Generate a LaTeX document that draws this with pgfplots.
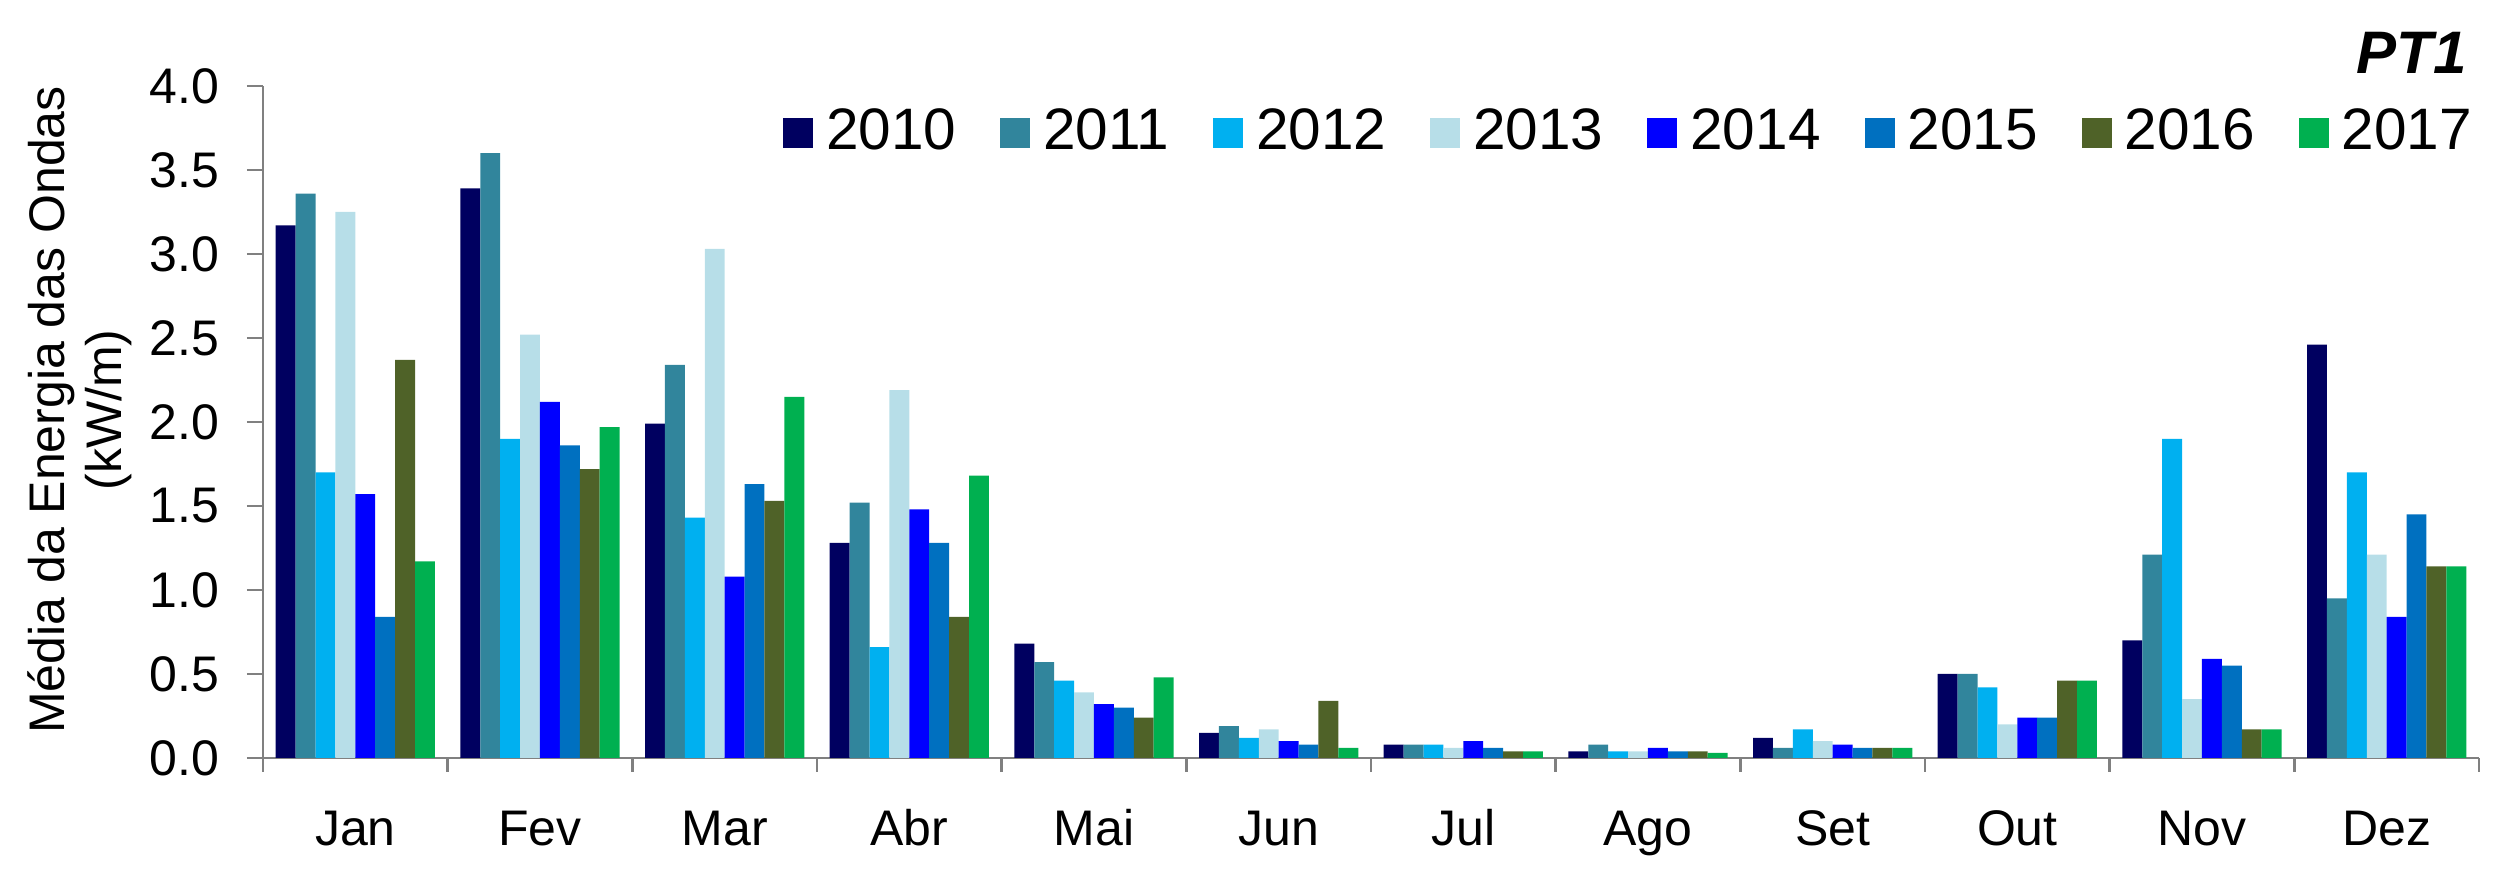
\documentclass[border=0pt]{standalone}
\usepackage{fontspec}
\setmainfont{Liberation Sans}
\usepackage{pgfplots}
\usepackage{pgfplotstable}
\pgfplotsset{compat=1.18}
\definecolor{c10}{RGB}{0,0,96}
\definecolor{c11}{RGB}{49,133,156}
\definecolor{c12}{RGB}{0,176,240}
\definecolor{c13}{RGB}{183,222,232}
\definecolor{c14}{RGB}{0,0,255}
\definecolor{c15}{RGB}{0,112,192}
\definecolor{c16}{RGB}{79,98,40}
\definecolor{c17}{RGB}{0,176,80}
\definecolor{axgray}{RGB}{128,128,128}
\pgfplotstableread{
x  a10  a11  a12  a13  a14  a15  a16  a17
0  3.17 3.36 1.70 3.25 1.57 0.84 2.37 1.17
1  3.39 3.60 1.90 2.52 2.12 1.86 1.72 1.97
2  1.99 2.34 1.43 3.03 1.08 1.63 1.53 2.15
3  1.28 1.52 0.66 2.19 1.48 1.28 0.84 1.68
4  0.68 0.57 0.46 0.39 0.32 0.30 0.24 0.48
5  0.15 0.19 0.12 0.17 0.10 0.08 0.34 0.06
6  0.08 0.08 0.08 0.06 0.10 0.06 0.04 0.04
7  0.04 0.08 0.04 0.04 0.06 0.04 0.04 0.03
8  0.12 0.06 0.17 0.10 0.08 0.06 0.06 0.06
9  0.50 0.50 0.42 0.20 0.24 0.24 0.46 0.46
10 0.70 1.21 1.90 0.35 0.59 0.55 0.17 0.17
11 2.46 0.95 1.70 1.21 0.84 1.45 1.14 1.14
}\data
\pgfplotsset{mybar/.style={fill=#1, draw=none,
  legend image code/.code={\fill[#1] (0pt,-3pt) rectangle (6pt,3pt);}}}
\begin{document}
\begin{tikzpicture}
\begin{axis}[
  width=443.2pt, height=134.4pt, scale only axis,
  ybar=0pt, bar width=3.98pt,
  ymin=0, ymax=4, ytick={0,0.5,1,1.5,2,2.5,3,3.5,4},
  xmin=-0.5, xmax=11.5,
  xtick={0,...,11},
  xticklabels={Jan,Fev,Mar,Abr,Mai,Jun,Jul,Ago,Set,Out,Nov,Dez},
  minor xtick={-0.5,0.5,...,11.5},
  axis x line*=bottom, axis y line*=left,
  axis line style={draw=axgray, line width=0.55pt, -},
  tick align=outside,
  major tick length=3.2pt, minor tick length=2.8pt,
  tick style={draw=axgray, line width=0.55pt},
  major x tick style={draw=none},
  /pgf/number format/.cd, fixed, fixed zerofill, precision=1, assume math mode=true, /pgfplots/.cd,
  yticklabel style={font=\fontsize{10}{12}\selectfont, anchor=east, inner sep=0pt, xshift=-5.4pt},
  xticklabel style={font=\fontsize{10}{12}\selectfont, anchor=base, inner sep=0pt, yshift=-14.4pt},
  ylabel={Média da Energia das Ondas\\(kW/m)},
  every axis y label/.style={at={([xshift=-36.6pt,yshift=2.4pt]axis description cs:0,0.5)}, rotate=90, anchor=center, align=center, font=\fontsize{10}{11.4}\selectfont},
  legend columns=8,
  legend style={draw=none, fill=none, inner sep=0pt, at={([xshift=-1.2pt,yshift=-9.4pt]axis description cs:1,1)}, anchor=east,
    font=\fontsize{11.7}{14}\selectfont, nodes={inner sep=0pt},
    /tikz/every odd column/.style={column sep=2.6pt},
    /tikz/every even column/.style={column sep=8.8pt}},
  clip=false,
]
\addplot[mybar=c10] table[x=x,y=a10]{\data};
\addplot[mybar=c11] table[x=x,y=a11]{\data};
\addplot[mybar=c12] table[x=x,y=a12]{\data};
\addplot[mybar=c13] table[x=x,y=a13]{\data};
\addplot[mybar=c14] table[x=x,y=a14]{\data};
\addplot[mybar=c15] table[x=x,y=a15]{\data};
\addplot[mybar=c16] table[x=x,y=a16]{\data};
\addplot[mybar=c17] table[x=x,y=a17]{\data};
\legend{2010,2011,2012,2013,2014,2015,2016,2017}
\node[anchor=east, inner sep=0pt, font=\fontsize{12}{14}\bfseries\itshape\selectfont] at ([xshift=-2.2pt,yshift=6.6pt]axis description cs:1,1) {PT1};
\end{axis}
\pgfresetboundingbox
\path (-52.6pt,-24.2pt) rectangle (449.2pt,151.6pt);
\end{tikzpicture}
\end{document}
